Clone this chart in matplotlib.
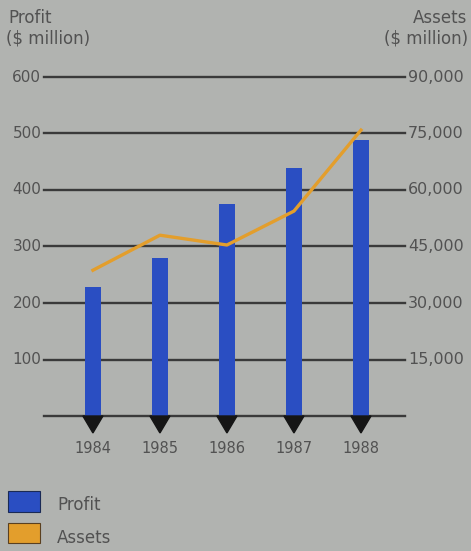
import matplotlib.pyplot as plt
from matplotlib.patches import Rectangle, Polygon

# =========================
# data
# =========================
years = ['1984', '1985', '1986', '1987', '1988']
profit = [228, 280, 375, 439, 488]           # $ million
assets = [38700, 48000, 45400, 54400, 75900]  # $ million
profit_ticks = [100, 200, 300, 400, 500, 600]
assets_ticks = [15000, 30000, 45000, 60000, 75000, 90000]

bg = '#b1b3b0'
blue = '#2a4ec2'
orange = '#e39e2c'
grid_c = '#3a3a3a'
text_c = '#525252'

plt.rcParams['font.family'] = ['DejaVu Sans']

fig = plt.figure(figsize=(4.71, 5.51), dpi=100, facecolor=bg)
W, H = 471, 551
ax = fig.add_axes([44 / W, 1 - 416 / H, 361 / W, 339 / H])
ax.set_facecolor(bg)
ax.set_xlim(-0.73, 4.657)
ax.set_ylim(0, 600)
for s in ax.spines.values():
    s.set_visible(False)
ax.set_xticks([])
ax.set_yticks([])

# gridlines + baseline (not clipped, so the edge lines keep full width)
for t in [0] + profit_ticks:
    ax.axhline(t, color=grid_c, lw=1.7, zorder=1, clip_on=False)

# bars
x = list(range(len(years)))
ax.bar(x, profit, width=0.24, color=blue, zorder=2)

# assets line on its own scale (90,000 <-> 600)
ax2 = ax.twinx()
ax2.set_ylim(0, 90000)
ax2.axis('off')
ax2.plot(x, assets, color=orange, lw=2.4, zorder=3)

# arrowheads under bars
for xi in x:
    tri = Polygon([(xi - 0.15, 0), (xi + 0.15, 0), (xi, -30)], closed=True,
                  color='#151515', clip_on=False, zorder=4)
    ax.add_patch(tri)
    ax.text(xi, -58, years[xi], ha='center', va='center', fontsize=10.5, color=text_c)

# tick labels
for t, a in zip(profit_ticks, assets_ticks):
    ax.text(-0.77, t, str(t), ha='right', va='center', fontsize=11, color=text_c)
    ax.text(4.70, t, f'{a:,}', ha='left', va='center', fontsize=11.5, color=text_c)

# axis titles
fig.text(8 / W, 1 - 18 / H, 'Profit', ha='left', va='center', fontsize=12, color=text_c)
fig.text(6 / W, 1 - 38 / H, '($ million)', ha='left', va='center', fontsize=12, color=text_c)
fig.text(467 / W, 1 - 18 / H, 'Assets', ha='right', va='center', fontsize=12, color=text_c)
fig.text(468 / W, 1 - 38 / H, '($ million)', ha='right', va='center', fontsize=12, color=text_c)

# legend
fig.patches.append(Rectangle((8 / W, 1 - 512 / H), 32 / W, 21 / H, transform=fig.transFigure,
                             facecolor=blue, edgecolor='#1a2a55', lw=0.8))
fig.patches.append(Rectangle((8 / W, 1 - 543 / H), 32 / W, 20 / H, transform=fig.transFigure,
                             facecolor=orange, edgecolor='#5a4020', lw=0.8))
fig.text(57 / W, 1 - 505 / H, 'Profit', ha='left', va='center', fontsize=12, color=text_c)
fig.text(57 / W, 1 - 538 / H, 'Assets', ha='left', va='center', fontsize=12, color=text_c)

plt.savefig('out.png', dpi=100, facecolor=bg)
